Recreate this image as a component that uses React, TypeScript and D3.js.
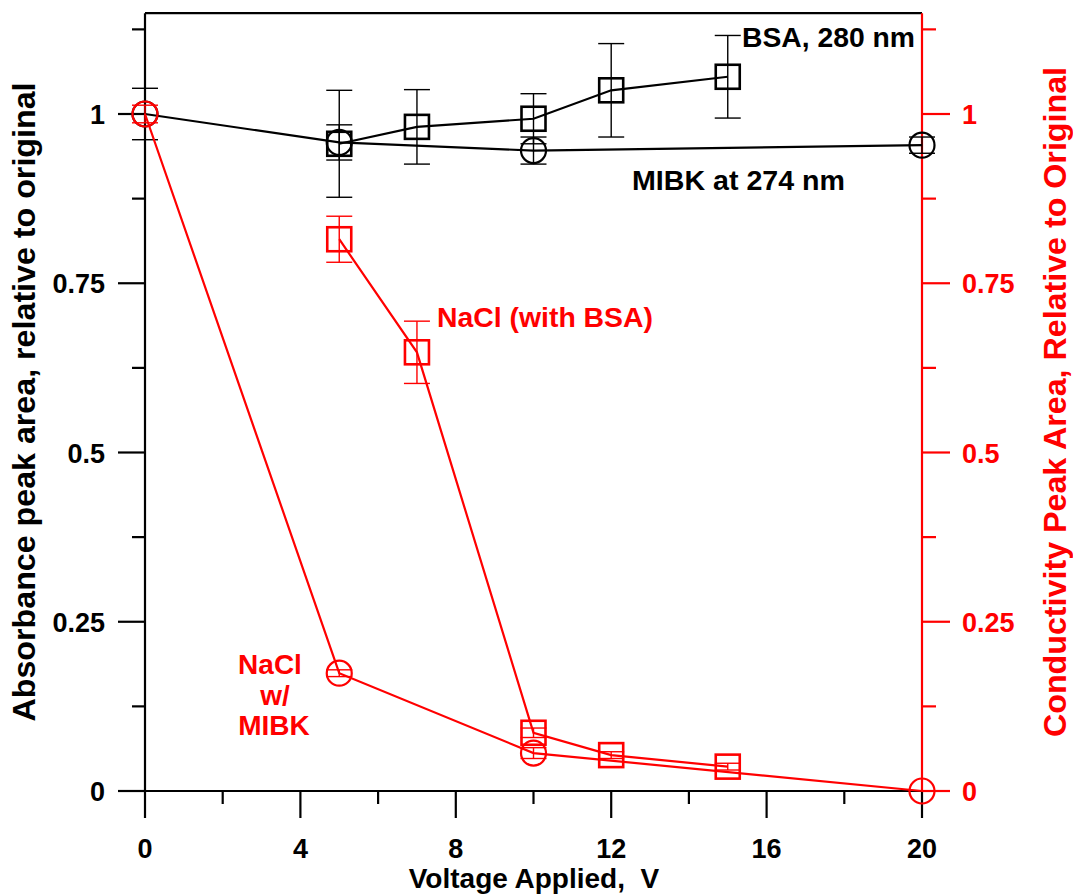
import React from "react";
import * as d3 from "d3";

// BSA absorbance at 280 nm (left axis)
const bsaVolts = [5, 7, 10, 12, 15];
const bsaValues = [0.956, 0.981, 0.993, 1.035, 1.055];
const bsaErrors = [0.079, 0.055, 0.037, 0.069, 0.061];

// MIBK absorbance at 274 nm (left axis)
const mibkVolts = [0, 5, 10, 20];
const mibkValues = [1.0, 0.958, 0.946, 0.954];
const mibkErrors = [0.038, 0.026, 0.02, 0.012];

// NaCl conductivity with BSA (right axis)
const naclBsaVolts = [5, 7, 10, 12, 15];
const naclBsaValues = [0.815, 0.648, 0.086, 0.053, 0.036];
const naclBsaErrors = [0.034, 0.046, 0.007, 0.005, 0.005];

// NaCl conductivity with MIBK (right axis)
const naclMibkVolts = [0, 5, 10, 20];
const naclMibkValues = [1.0, 0.174, 0.056, 0.0];
const naclMibkErrors = [0.013, 0.005, 0.008, 0.0];

const xTicks = [0, 2, 4, 6, 8, 10, 12, 14, 16, 18, 20];
const xTickLabels = ["0", "4", "8", "12", "16", "20"];
const yTicks = [0, 0.125, 0.25, 0.375, 0.5, 0.625, 0.75, 0.875, 1, 1.125];
const yTickLabels = ["0", "0.25", "0.5", "0.75", "1"];

const W = 1073;
const H = 894;
const FONT = "'Liberation Sans', Arial, Helvetica, sans-serif";
const RED = "#ff0000";
const BLACK = "#000000";

const x = d3.scaleLinear().domain([0, 20]).range([145, 922]);
const yLeft = d3.scaleLinear().domain([0, 1]).range([791, 114]);
const yRight = d3.scaleLinear().domain([0, 1]).range([791, 114]);
const yTop = 1.149;

type SeriesProps = {
  xs: number[];
  vals: number[];
  errs: number[];
  y: d3.ScaleLinear<number, number>;
  color: string;
  marker: "square" | "circle";
};

function Series({ xs, vals, errs, y, color, marker }: SeriesProps) {
  const pts: [number, number][] = xs.map((v, i) => [x(v), y(vals[i])]);
  const line = d3.line()(pts) || "";
  const cap = 13;
  return (
    <g>
      <path d={line} fill="none" stroke={color} strokeWidth={2.2} />
      {xs.map((v, i) => {
        const cx = x(v);
        const y1 = y(vals[i] + errs[i]);
        const y2 = y(vals[i] - errs[i]);
        if (errs[i] <= 0) return null;
        return (
          <g key={"e" + i} stroke={color} strokeWidth={1.4}>
            <line x1={cx} x2={cx} y1={y1} y2={y2} />
            <line x1={cx - cap} x2={cx + cap} y1={y1} y2={y1} />
            <line x1={cx - cap} x2={cx + cap} y1={y2} y2={y2} />
          </g>
        );
      })}
      {pts.map(([px, py], i) =>
        marker === "square" ? (
          <rect
            key={"m" + i}
            x={px - 12}
            y={py - 12}
            width={24}
            height={24}
            fill="none"
            stroke={color}
            strokeWidth={2.6}
          />
        ) : (
          <circle
            key={"m" + i}
            cx={px}
            cy={py}
            r={12.5}
            fill="none"
            stroke={color}
            strokeWidth={2.2}
          />
        )
      )}
    </g>
  );
}

export default function App() {
  const x0 = x(0);
  const x1 = x(20);
  const yb = yLeft(0);
  const yt = yLeft(yTop);
  const isMajorY = (v: number) => Math.abs((v / 0.25) - Math.round(v / 0.25)) < 1e-6;
  const isMajorX = (v: number) => v % 4 === 0;

  return (
    <svg
      width={W}
      height={H}
      style={{ position: "absolute", left: 0, top: 0, background: "#fff" }}
      fontFamily={FONT}
      fontWeight="bold"
    >
      <rect x={0} y={0} width={W} height={H} fill="#fff" />

      {/* frame: top, left and bottom in black */}
      <line x1={x0} x2={x1} y1={yt} y2={yt} stroke={BLACK} strokeWidth={2.2} />
      <line x1={x0} x2={x0} y1={yt} y2={yb} stroke={BLACK} strokeWidth={2.2} />
      <line x1={x0} x2={x1} y1={yb} y2={yb} stroke={BLACK} strokeWidth={2.2} />

      {/* left axis ticks */}
      {yTicks.map((v) => (
        <line
          key={"yl" + v}
          x1={x0 - (isMajorY(v) ? 27 : 13)}
          x2={x0}
          y1={yLeft(v)}
          y2={yLeft(v)}
          stroke={BLACK}
          strokeWidth={2.2}
        />
      ))}
      {yTickLabels.map((t) => (
        <text
          key={"yll" + t}
          x={105}
          y={yLeft(+t) + 10}
          textAnchor="end"
          fontSize={27}
          fill={BLACK}
        >
          {t}
        </text>
      ))}

      {/* bottom axis ticks */}
      {xTicks.map((v) => (
        <line
          key={"xt" + v}
          x1={x(v)}
          x2={x(v)}
          y1={yb}
          y2={yb + (isMajorX(v) ? 27 : 13)}
          stroke={BLACK}
          strokeWidth={2.2}
        />
      ))}
      {xTickLabels.map((t) => (
        <text key={"xl" + t} x={x(+t)} y={858} textAnchor="middle" fontSize={27} fill={BLACK}>
          {t}
        </text>
      ))}

      {/* right axis in red */}
      <line x1={x1} x2={x1} y1={yt} y2={yb} stroke={RED} strokeWidth={2.2} />
      {yTicks.map((v) => (
        <line
          key={"yr" + v}
          x1={x1}
          x2={x1 + (isMajorY(v) ? 28 : 14)}
          y1={yRight(v)}
          y2={yRight(v)}
          stroke={RED}
          strokeWidth={2.2}
        />
      ))}
      {yTickLabels.map((t) => (
        <text key={"yrl" + t} x={962} y={yRight(+t) + 10} textAnchor="start" fontSize={27} fill={RED}>
          {t}
        </text>
      ))}

      {/* data */}
      <Series xs={bsaVolts} vals={bsaValues} errs={bsaErrors} y={yLeft} color={BLACK} marker="square" />
      <Series xs={mibkVolts} vals={mibkValues} errs={mibkErrors} y={yLeft} color={BLACK} marker="circle" />
      <Series xs={naclBsaVolts} vals={naclBsaValues} errs={naclBsaErrors} y={yRight} color={RED} marker="square" />
      <Series xs={naclMibkVolts} vals={naclMibkValues} errs={naclMibkErrors} y={yRight} color={RED} marker="circle" />

      {/* annotations */}
      <text x={742} y={47} fontSize={28} fill={BLACK} textLength={173} lengthAdjust="spacingAndGlyphs">
        BSA, 280 nm
      </text>
      <text x={632} y={190} fontSize={28} fill={BLACK} textLength={213} lengthAdjust="spacingAndGlyphs">
        MIBK at 274 nm
      </text>
      <text x={437} y={327} fontSize={28} fill={RED} textLength={216} lengthAdjust="spacingAndGlyphs">
        NaCl (with BSA)
      </text>
      <text x={270} y={674} fontSize={28} fill={RED} textAnchor="middle">NaCl</text>
      <text x={275} y={705} fontSize={28} fill={RED} textAnchor="middle">w/</text>
      <text x={274} y={735} fontSize={28} fill={RED} textAnchor="middle">MIBK</text>

      {/* axis titles */}
      <text
        transform={`translate(35, 402) rotate(-90)`}
        textAnchor="middle"
        fontSize={31}
        fill={BLACK}
        textLength={639}
        lengthAdjust="spacingAndGlyphs"
      >
        Absorbance peak area, relative to original
      </text>
      <text
        transform={`translate(1066, 402) rotate(-90)`}
        textAnchor="middle"
        fontSize={32}
        fill={RED}
        textLength={670}
        lengthAdjust="spacingAndGlyphs"
      >
        Conductivity Peak Area, Relative to Original
      </text>
      <text x={534} y={888} textAnchor="middle" fontSize={28} fill={BLACK}>
        Voltage Applied,{"\u00a0\u00a0"}V
      </text>
    </svg>
  );
}
